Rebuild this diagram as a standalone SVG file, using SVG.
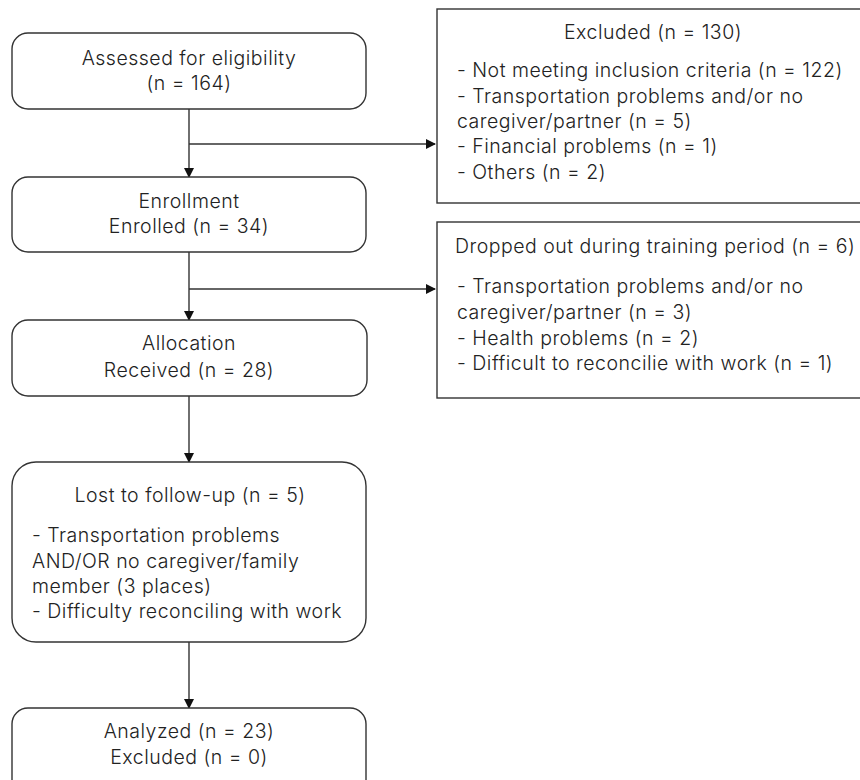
<svg xmlns="http://www.w3.org/2000/svg" width="860" height="780" viewBox="0 0 860 780">
<style>
.box{fill:#fff;stroke:#333;stroke-width:1.4}
.t{font-family:Inter,"Open Sans","Liberation Sans",sans-serif;font-weight:300;font-size:19.5px;letter-spacing:0.5px;fill:#222}
.c{text-anchor:middle}
.ln{stroke:#333;stroke-width:1.4;fill:none}
</style>
<defs>
<marker id="ah" markerWidth="10" markerHeight="10" refX="9" refY="5" orient="auto" markerUnits="userSpaceOnUse">
<path d="M0,0 L10,5 L0,10 Z" fill="#111"/>
</marker>
</defs>
<rect width="860" height="780" fill="#fff"/>
<g id="connectors">
<line class="ln" x1="189" y1="109" x2="189" y2="177" marker-end="url(#ah)"/>
<line class="ln" x1="189" y1="144" x2="435" y2="144" marker-end="url(#ah)"/>
<line class="ln" x1="189" y1="252" x2="189" y2="320" marker-end="url(#ah)"/>
<line class="ln" x1="189" y1="289" x2="435" y2="289" marker-end="url(#ah)"/>
<line class="ln" x1="189" y1="396" x2="189" y2="462" marker-end="url(#ah)"/>
<line class="ln" x1="189" y1="642" x2="189" y2="708" marker-end="url(#ah)"/>
</g>
<g id="assessed">
<rect class="box" x="12" y="33" width="354" height="76" rx="16"/>
<text class="t c" x="189" y="65">Assessed for eligibility</text>
<text class="t c" x="189" y="90">(n = 164)</text>
</g>
<g id="excluded">
<rect class="box" x="437" y="9" width="440" height="194"/>
<text class="t c" x="653" y="39">Excluded (n = 130)</text>
<text class="t" x="457" y="77">- Not meeting inclusion criteria (n = 122)</text>
<text class="t" x="457" y="103">- Transportation problems and/or no</text>
<text class="t" x="457" y="128">caregiver/partner (n = 5)</text>
<text class="t" x="457" y="153">- Financial problems (n = 1)</text>
<text class="t" x="457" y="179">- Others (n = 2)</text>
</g>
<g id="enrollment">
<rect class="box" x="12" y="177" width="354" height="75" rx="16"/>
<text class="t c" x="189" y="208">Enrollment</text>
<text class="t c" x="189" y="233">Enrolled (n = 34)</text>
</g>
<g id="dropped">
<rect class="box" x="437" y="222" width="440" height="176"/>
<text class="t" x="455" y="253">Dropped out during training period (n = 6)</text>
<text class="t" x="457" y="293">- Transportation problems and/or no</text>
<text class="t" x="457" y="319">caregiver/partner (n = 3)</text>
<text class="t" x="457" y="345">- Health problems (n = 2)</text>
<text class="t" x="457" y="370">- Difficult to reconcilie with work (n = 1)</text>
</g>
<g id="allocation">
<rect class="box" x="12" y="320" width="355" height="76" rx="16"/>
<text class="t c" x="189" y="350">Allocation</text>
<text class="t c" x="189" y="377">Received (n = 28)</text>
</g>
<g id="lost">
<rect class="box" x="12" y="462" width="354" height="180" rx="24"/>
<text class="t c" x="190" y="502">Lost to follow-up (n = 5)</text>
<text class="t" x="32" y="542">- Transportation problems</text>
<text class="t" x="32" y="568">AND/OR no caregiver/family</text>
<text class="t" x="32" y="593">member (3 places)</text>
<text class="t" x="32" y="618">- Difficulty reconciling with work</text>
</g>
<g id="analyzed">
<rect class="box" x="12" y="708" width="354" height="90" rx="16"/>
<text class="t c" x="189" y="738">Analyzed (n = 23)</text>
<text class="t c" x="189" y="764">Excluded (n = 0)</text>
</g>
</svg>
